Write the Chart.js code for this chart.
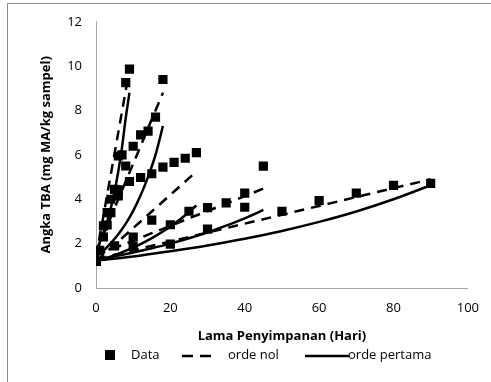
<!DOCTYPE html>
<html>
<head>
<meta charset="utf-8">
<script src="https://cdn.jsdelivr.net/npm/chart.js@4"></script>
<style>
  html, body { margin: 0; padding: 0; background: #fff; }
  #wrap { position: relative; width: 491px; height: 382px; overflow: hidden; }
  #frame { position: absolute; left: 7px; top: 3px; width: 600px; height: 500px; border: 1px solid #8c8c8c; }
  #legend { position: absolute; left: 0; top: 345px; width: 491px; height: 20px; font: 13px "Open Sans", sans-serif; color: #000; }
  #legend span, #legend svg { position: absolute; top: 0; }
</style>
</head>
<body>
<div id="wrap">
  <div id="frame"></div>
  <canvas id="chart" width="491" height="382"></canvas>
  <div id="legend">
    <svg style="left:105px;top:5px" width="10" height="10"><rect width="10" height="10" fill="#000"/></svg>
    <span style="left:131px">Data</span>
    <svg style="left:182px;top:9px" width="34" height="4"><line x1="0" y1="2" x2="34" y2="2" stroke="#000" stroke-width="2.5" stroke-dasharray="11,7"/></svg>
    <span style="left:228px">orde nol</span>
    <svg style="left:305px;top:9px" width="44" height="4"><line x1="0" y1="2" x2="44" y2="2" stroke="#000" stroke-width="2.5"/></svg>
    <span style="left:348px">orde pertama</span>
  </div>
</div>
<script>
// storage days per series
const days1 = [0, 1, 2, 3, 4, 5, 6, 7, 8, 9];
const days2 = [0, 2, 4, 6, 8, 10, 12, 14, 16, 18];
const days3 = [0, 3, 6, 9, 12, 15, 18, 21, 24, 27];
const days4 = [0, 5, 10, 15, 20, 25, 30, 35, 40, 45];
const days5 = [0, 10, 20, 30, 40, 50, 60, 70, 80, 90];

// measured TBA
const data1 = [1.2, 1.7, 2.8, 3.4, 4.0, 4.45, 5.95, 6.0, 9.26, 9.87];
const data2 = [1.2, 2.3, 3.4, 4.15, 5.5, 6.39, 6.9, 7.07, 7.7, 9.4];
const data3 = [1.2, 2.84, 4.42, 4.8, 4.98, 5.15, 5.45, 5.66, 5.85, 6.1];
const data4 = [1.2, 1.9, 2.3, 3.06, 2.85, 3.46, 3.62, 3.84, 4.28, 5.49];
const data5 = [1.2, 1.88, 1.98, 2.65, 3.64, 3.46, 3.94, 4.28, 4.63, 4.72];

// orde nol (zero order)
const nol1 = [1.38, 2.32, 3.26, 4.2, 5.14, 6.08, 7.02, 7.96, 8.9, 9.84];
const nol2 = [1.6, 2.4, 3.2, 4.0, 4.8, 5.6, 6.4, 7.2, 8.0, 8.8];
const nol3 = [1.2, 1.65, 2.1, 2.55, 3.0, 3.45, 3.9, 4.35, 4.8, 5.25];
const nol4 = [1.46, 1.8, 2.13, 2.47, 2.8, 3.14, 3.47, 3.8, 4.14, 4.48];
const nol5 = [1.3, 1.7, 2.1, 2.5, 2.9, 3.3, 3.7, 4.1, 4.5, 4.9];

// orde pertama (first order)
const pertama1 = [1.7, 2.05, 2.48, 2.99, 3.61, 4.36, 5.26, 6.35, 7.67, 8.8];
const pertama2 = [1.4, 1.68, 2.02, 2.42, 2.9, 3.48, 4.18, 5.01, 6.0, 7.3];
const pertama3 = [1.2, 1.36, 1.54, 1.75, 1.98, 2.25, 2.55, 2.89, 3.28, 3.72];
const pertama4 = [1.28, 1.43, 1.6, 1.79, 2.0, 2.24, 2.51, 2.81, 3.14, 3.52];
const pertama5 = [1.23, 1.42, 1.66, 1.92, 2.22, 2.57, 2.98, 3.45, 4.0, 4.63];

const xTicks = [0, 20, 40, 60, 80, 100];
const yTicks = [0, 2, 4, 6, 8, 10, 12];

const series = [
  [days1, data1, nol1, pertama1],
  [days2, data2, nol2, pertama2],
  [days3, data3, nol3, pertama3],
  [days4, data4, nol4, pertama4],
  [days5, data5, nol5, pertama5]
];

const pts = (xs, ys) => xs.map((x, i) => ({ x: x, y: ys[i] }));

const datasets = [];
series.forEach(([d, m, z, f]) => {
  datasets.push({ label: 'Data', data: pts(d, m), showLine: false, pointStyle: 'rect',
    pointRadius: 6.5, backgroundColor: '#000', borderColor: '#000', borderWidth: 0, order: 0 });
  datasets.push({ label: 'orde nol', data: pts(d, z), showLine: true, borderColor: '#000',
    borderWidth: 2.5, borderDash: [10, 7], pointRadius: 0, order: 1 });
  datasets.push({ label: 'orde pertama', data: pts(d, f), showLine: true, borderColor: '#000',
    borderWidth: 2.5, pointRadius: 0, cubicInterpolationMode: 'monotone', order: 1 });
});

const font = { family: '"Open Sans", sans-serif', size: 13 };

new Chart(document.getElementById('chart'), {
  type: 'scatter',
  data: { datasets: datasets },
  options: {
    responsive: false,
    animation: false,
    events: [],
    layout: { padding: { left: 34, top: 14, right: 19, bottom: 34 } },
    plugins: { legend: { display: false }, tooltip: { enabled: false } },
    scales: {
      x: {
        min: 0, max: 100,
        afterBuildTicks: s => { s.ticks = xTicks.map(v => ({ value: v })); },
        afterFit: s => { s.height = 60; },
        grid: { display: false, drawTicks: false },
        border: { color: '#a6a6a6', width: 1 },
        ticks: { color: '#000', font: font, padding: 12, maxRotation: 0 },
        title: { display: true, text: 'Lama Penyimpanan (Hari)', color: '#000',
          font: { family: font.family, size: 13, weight: 'bold' }, padding: { top: 4 } }
      },
      y: {
        min: 0, max: 12,
        afterBuildTicks: s => { s.ticks = yTicks.map(v => ({ value: v })); },
        afterFit: s => { s.width = 62; },
        grid: { display: false, drawTicks: false },
        border: { color: '#a6a6a6', width: 1 },
        ticks: { color: '#000', font: font, padding: 14 },
        title: { display: true, text: 'Angka TBA (mg MA/kg sampel)', color: '#000',
          font: { family: font.family, size: 13, weight: 'bold' }, padding: { bottom: 0 } }
      }
    }
  }
});
</script>
</body>
</html>
